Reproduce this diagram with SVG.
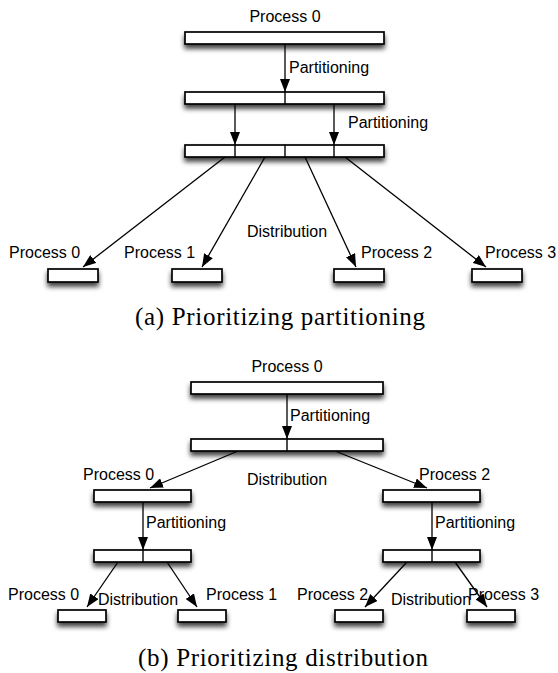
<svg xmlns="http://www.w3.org/2000/svg" width="558" height="673" viewBox="0 0 558 673">
<style>
.bar{fill:#fff;stroke:#000;stroke-width:1.7;filter:url(#sh)}
.div{stroke:#000;stroke-width:1.4}
.con{stroke:#000;stroke-width:1.3;fill:none;marker-end:url(#ah)}
.lbl{font-family:"Liberation Sans",Arial,Helvetica,sans-serif;font-size:16px;fill:#000}
.cap{font-family:"Liberation Serif","Times New Roman",serif;font-size:25px;fill:#000}
</style>
<defs>
<filter id="sh" x="-20%" y="-50%" width="140%" height="260%">
<feDropShadow dx="0" dy="4" stdDeviation="2.8" flood-color="#000" flood-opacity="0.75"/>
</filter>
<marker id="ah" markerUnits="userSpaceOnUse" markerWidth="13" markerHeight="10" refX="13" refY="5" orient="auto">
<path d="M0,0 L13,5 L0,10 z" fill="#000"/>
</marker>
</defs>

<!-- Part (a) -->
<g id="connectors-a">
<line class="con" x1="285" y1="44" x2="285" y2="92"/>
<line class="con" x1="235" y1="104" x2="235" y2="145"/>
<line class="con" x1="334" y1="104" x2="334" y2="145"/>
<line class="con" x1="225" y1="157" x2="83" y2="267"/>
<line class="con" x1="265" y1="157" x2="202" y2="267"/>
<line class="con" x1="305" y1="157" x2="356" y2="267"/>
<line class="con" x1="345" y1="157" x2="486" y2="267"/>
<text class="lbl" x="289" y="73">Partitioning</text>
<text class="lbl" x="348" y="128">Partitioning</text>
<text class="lbl" x="247" y="237">Distribution</text>
</g>
<g id="a-root">
<text class="lbl" x="285" y="22" text-anchor="middle">Process 0</text>
<rect class="bar" x="185" y="32" width="199" height="12"/>
</g>
<g id="a-split2">
<rect class="bar" x="185" y="92" width="199" height="12"/>
<line class="div" x1="285" y1="92" x2="285" y2="104"/>
</g>
<g id="a-split4">
<rect class="bar" x="185" y="145" width="199" height="12"/>
<line class="div" x1="235" y1="145" x2="235" y2="157"/>
<line class="div" x1="285" y1="145" x2="285" y2="157"/>
<line class="div" x1="334" y1="145" x2="334" y2="157"/>
</g>
<g id="a-p0">
<text class="lbl" x="9" y="258">Process 0</text>
<rect class="bar" x="48" y="269" width="50" height="13"/>
</g>
<g id="a-p1">
<text class="lbl" x="124" y="258">Process 1</text>
<rect class="bar" x="172" y="269" width="50" height="13"/>
</g>
<g id="a-p2">
<text class="lbl" x="361" y="258">Process 2</text>
<rect class="bar" x="334" y="269" width="50" height="13"/>
</g>
<g id="a-p3">
<text class="lbl" x="485" y="258">Process 3</text>
<rect class="bar" x="472" y="269" width="50" height="13"/>
</g>
<text class="cap" x="280" y="325" text-anchor="middle" textLength="290" lengthAdjust="spacing">(a) Prioritizing partitioning</text>

<!-- Part (b) -->
<g id="connectors-b">
<line class="con" x1="287" y1="394" x2="287" y2="439"/>
<line class="con" x1="238" y1="451" x2="150" y2="488"/>
<line class="con" x1="335" y1="451" x2="427" y2="488"/>
<line class="con" x1="143" y1="502" x2="143" y2="550"/>
<line class="con" x1="432" y1="502" x2="432" y2="550"/>
<line class="con" x1="118" y1="562" x2="87" y2="607"/>
<line class="con" x1="167" y1="562" x2="197" y2="607"/>
<line class="con" x1="407" y1="562" x2="365" y2="607"/>
<line class="con" x1="455" y1="562" x2="487" y2="607"/>
<text class="lbl" x="290" y="421">Partitioning</text>
<text class="lbl" x="247" y="485">Distribution</text>
<text class="lbl" x="146" y="528">Partitioning</text>
<text class="lbl" x="435" y="528">Partitioning</text>
<text class="lbl" x="98" y="605">Distribution</text>
<text class="lbl" x="391" y="605">Distribution</text>
</g>
<g id="b-root">
<text class="lbl" x="287" y="372" text-anchor="middle">Process 0</text>
<rect class="bar" x="191" y="382" width="192" height="12"/>
</g>
<g id="b-split2">
<rect class="bar" x="191" y="439" width="192" height="12"/>
<line class="div" x1="287" y1="439" x2="287" y2="451"/>
</g>
<g id="b-left">
<text class="lbl" x="83" y="480">Process 0</text>
<rect class="bar" x="94" y="490" width="97" height="12"/>
</g>
<g id="b-right">
<text class="lbl" x="419" y="480">Process 2</text>
<rect class="bar" x="383" y="490" width="97" height="12"/>
</g>
<g id="b-left-split">
<rect class="bar" x="94" y="550" width="97" height="12"/>
<line class="div" x1="143" y1="550" x2="143" y2="562"/>
</g>
<g id="b-right-split">
<rect class="bar" x="383" y="550" width="97" height="12"/>
<line class="div" x1="432" y1="550" x2="432" y2="562"/>
</g>
<g id="b-p0">
<text class="lbl" x="8" y="600">Process 0</text>
<rect class="bar" x="58" y="610" width="48" height="12"/>
</g>
<g id="b-p1">
<text class="lbl" x="206" y="600">Process 1</text>
<rect class="bar" x="178" y="610" width="48" height="12"/>
</g>
<g id="b-p2">
<text class="lbl" x="297" y="600">Process 2</text>
<rect class="bar" x="335" y="610" width="48" height="12"/>
</g>
<g id="b-p3">
<text class="lbl" x="468" y="600">Process 3</text>
<rect class="bar" x="467" y="610" width="48" height="12"/>
</g>
<text class="cap" x="283" y="666" text-anchor="middle" textLength="290" lengthAdjust="spacing">(b) Prioritizing distribution</text>
</svg>
